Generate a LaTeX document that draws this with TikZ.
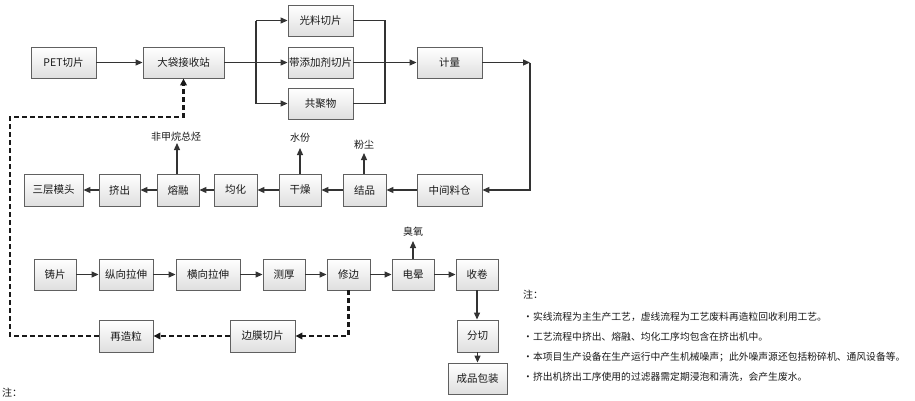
\documentclass[tikz,border=0pt]{standalone}
\usepackage{fontspec}
\setmainfont{Noto Sans CJK SC}
\usetikzlibrary{arrows.meta,shadows}
\begin{document}
\begin{tikzpicture}[x=1pt,y=-1pt,
  box/.style={draw=gray!75!black, line width=0.9pt, top color=white, bottom color=gray!25,
    rectangle, minimum height=31pt, inner sep=0pt, font=\fontsize{10.5}{12}\selectfont,
    text=black!90, drop shadow={shadow xshift=1pt, shadow yshift=-1pt, opacity=0.25, fill=gray}},
  flow/.style={draw=black!80, line width=1.2pt, -{Triangle[length=7pt,width=6pt]}},
  plain/.style={draw=black!80, line width=1.2pt},
  recyc/.style={draw=black!90, line width=2.4pt, dash pattern=on 5pt off 3pt, -{Triangle[length=7pt,width=6.5pt]}},
  lbl/.style={font=\fontsize{10}{12}\selectfont, text=black!90, inner sep=0pt},
  note/.style={font=\fontsize{9.8}{11}\selectfont, text=black!90, anchor=west, inner sep=0pt}]
\useasboundingbox (0,0) rectangle (915,400);
% row 1
\node[box, minimum width=65pt] (pet) at (63.5,62.5) {PET切片};
\node[box, minimum width=81pt] (dd) at (183.5,62.5) {大袋接收站};
\node[box, minimum width=65pt] (gl) at (320.5,20.5) {光料切片};
\node[box, minimum width=65pt] (dt) at (320.5,62.5) {带添加剂切片};
\node[box, minimum width=65pt] (gj) at (320.5,103.5) {共聚物};
\node[box, minimum width=65pt] (jl) at (449.5,62.5) {计量};
% row 2
\node[box, minimum width=59pt, minimum height=32pt] (scmt) at (53.5,190) {三层模头};
\node[box, minimum width=41pt, minimum height=32pt] (jc) at (119.5,190) {挤出};
\node[box, minimum width=42pt, minimum height=32pt] (rr) at (178,190) {熔融};
\node[box, minimum width=43pt, minimum height=32pt] (jh) at (235.5,190) {均化};
\node[box, minimum width=42pt, minimum height=32pt] (gz) at (300,190) {干燥};
\node[box, minimum width=43pt, minimum height=32pt] (jp) at (364.5,190) {结品};
\node[box, minimum width=65pt, minimum height=32pt] (zj) at (449.5,190) {中间料仓};
% row 3
\node[box, minimum width=42pt] (zp) at (55,274.5) {铸片};
\node[box, minimum width=54pt] (zx) at (126,274.5) {纵向拉伸};
\node[box, minimum width=64pt] (hx) at (208,274.5) {横向拉伸};
\node[box, minimum width=42pt] (ch) at (284,274.5) {测厚};
\node[box, minimum width=43pt] (xb) at (348.5,274.5) {修边};
\node[box, minimum width=42pt] (dy) at (413,274.5) {电晕};
\node[box, minimum width=42pt] (sj) at (477,274.5) {收卷};
% row 4
\node[box, minimum width=54pt, minimum height=32pt] (zzl) at (126,336) {再造粒};
\node[box, minimum width=65pt, minimum height=32pt] (bm) at (262.5,336) {边膜切片};
\node[box, minimum width=41pt, minimum height=32pt] (fq) at (477.5,336) {分切};
\node[box, minimum width=59pt] (cp) at (477.5,378.5) {成品包装};
% emission labels
\node[lbl] (l1) at (176,137) {非甲烷总烃};
\node[lbl] (l2) at (300,138) {水份};
\node[lbl] (l3) at (364,145) {粉尘};
\node[lbl] (l4) at (413,232) {臭氧};
\coordinate (t1) at (177,143);
\coordinate (t2) at (300,148);
\coordinate (t3) at (364,153);
\coordinate (t4) at (413,241);
% row 1 connectors
\coordinate (bx) at (256,62.5);
\coordinate (mx) at (385,62.5);
\coordinate (cr) at (530,62.5);
\draw[flow] (pet) -- (dd);
\draw[flow] (dd) -- (dt);
\draw[plain] (bx |- gl) -- (bx |- gj);
\draw[flow] (bx |- gl) -- (gl);
\draw[flow] (bx |- gj) -- (gj);
\draw[plain] (gl.east) -- (mx |- gl) -- (mx |- gj) -- (gj.east);
\draw[flow] (dt) -- (jl);
\draw[flow] (jl) -- (cr);
\draw[flow] (cr) |- (zj.east);
% row 2 connectors
\draw[flow] (zj) -- (jp);
\draw[flow] (jp) -- (gz);
\draw[flow] (gz) -- (jh);
\draw[flow] (jh) -- (rr);
\draw[flow] (rr) -- (jc);
\draw[flow] (jc) -- (scmt);
\draw[flow] (rr.north -| t1) -- (t1);
\draw[flow] (gz.north) -- (t2);
\draw[flow] (jp.north -| t3) -- (t3);
% row 3 connectors
\draw[flow] (zp) -- (zx);
\draw[flow] (zx) -- (hx);
\draw[flow] (hx) -- (ch);
\draw[flow] (ch) -- (xb);
\draw[flow] (xb) -- (dy);
\draw[flow] (dy) -- (sj);
\draw[flow] (dy.north) -- (t4);
\draw[flow] (sj) -- (sj |- fq.north);
\draw[flow] (fq.south) -- (fq |- cp.north);
% recycling (dashed)
\coordinate (d1) at (10,336);
\coordinate (d2) at (10,117);
\draw[recyc] (xb.south) |- (bm.east);
\draw[recyc] (bm) -- (zzl);
\draw[recyc] (zzl.west) -- (d1) -- (d2) -| (dd.south);
% notes
\node[note, font=\fontsize{10}{11}\selectfont] (n0) at (523,295) {注：};
\node[note] (n1) at (523,317) {•实线流程为主生产工艺，虚线流程为工艺废料再造粒回收利用工艺。};
\node[note] (n2) at (523,337) {•工艺流程中挤出、熔融、均化工序均包含在挤出机中。};
\node[note] (n3) at (523,357) {•本项目生产设备在生产运行中产生机械噪声；此外噪声源还包括粉碎机、通风设备等。};
\node[note] (n4) at (523,377) {•挤出机挤出工序使用的过滤器需定期浸泡和清洗，会产生废水。};
\node[note, font=\fontsize{10}{11}\selectfont] (n5) at (2,393) {注：};
\end{tikzpicture}
\end{document}
